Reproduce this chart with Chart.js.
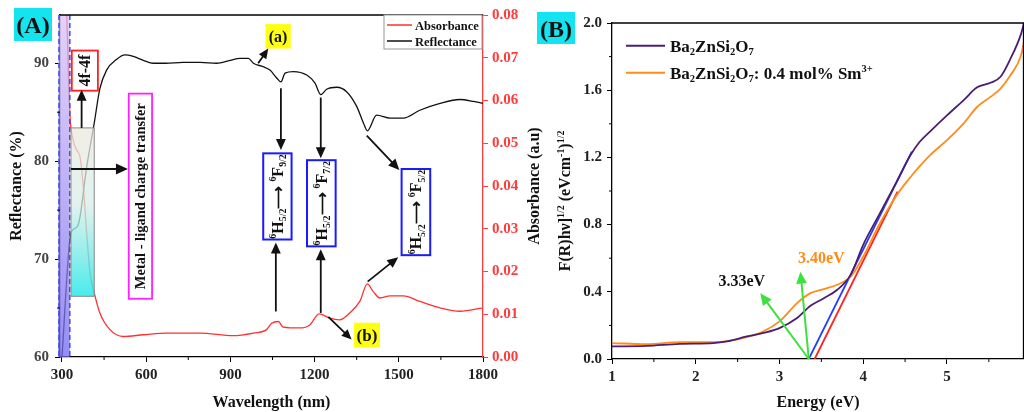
<!DOCTYPE html>
<html>
<head>
<meta charset="utf-8">
<script src="https://cdn.jsdelivr.net/npm/chart.js@4.4.1/dist/chart.umd.min.js"></script>
<style>
  html, body { margin: 0; padding: 0; background: #fff; }
  #wrap { position: relative; width: 1024px; height: 412px; overflow: hidden; }
  #chartA { position: absolute; left: 0; top: 0; }
  #chartB { position: absolute; left: 530px; top: 0; }
</style>
</head>
<body>
<div id="wrap">
  <canvas id="chartA" width="548" height="412"></canvas>
  <canvas id="chartB" width="494" height="412"></canvas>
</div>
<script>
// ---- panel (A): reflectance / absorbance vs wavelength ----
const reflWl  = [300, 328, 340, 358, 388, 415, 435, 459, 495, 524, 554, 590, 625, 669, 732, 792, 851, 899, 934, 964, 982, 1017, 1041, 1065, 1080, 1095, 1124, 1172, 1201, 1222, 1243, 1279, 1314, 1350, 1374, 1388, 1421, 1469, 1516, 1575, 1647, 1718, 1766, 1800];
const reflVal = [60, 72.0, 73.0, 73.5, 79.4, 83.9, 87.4, 89.3, 90.4, 90.85, 90.7, 90.3, 90.0, 90.0, 90.1, 90.1, 90.0, 90.3, 90.5, 90.5, 90.0, 89.65, 89.3, 88.5, 88.1, 89.0, 89.15, 88.8, 88.0, 86.8, 87.35, 87.55, 87.1, 85.6, 83.9, 83.1, 84.7, 84.4, 84.4, 85.2, 85.9, 86.3, 86.1, 85.9];

const absWl  = [305, 317, 328, 340, 352, 364, 376, 388, 400, 415, 435, 471, 518, 590, 673, 792, 910, 982, 1029, 1047, 1071, 1088, 1148, 1183, 1216, 1254, 1289, 1325, 1361, 1388, 1409, 1433, 1469, 1516, 1575, 1647, 1718, 1800];
const absVal = [0.095, 0.08, 0.057, 0.0508, 0.0484, 0.0469, 0.0399, 0.029, 0.0197, 0.015, 0.0103, 0.0064, 0.0048, 0.0052, 0.0056, 0.0056, 0.0050, 0.0056, 0.0064, 0.0079, 0.0083, 0.007, 0.0068, 0.0075, 0.0101, 0.0091, 0.0087, 0.0103, 0.013, 0.0171, 0.0153, 0.0138, 0.0143, 0.0143, 0.013, 0.0115, 0.0107, 0.0115];

const wlTicks   = [300, 600, 900, 1200, 1500, 1800];
const wlMinor   = [450, 750, 1050, 1350, 1650];
const reflTicks = [60, 70, 80, 90];
const reflMinor = [65, 75, 85];
const absTicks  = [0, 0.01, 0.02, 0.03, 0.04, 0.05, 0.06, 0.07, 0.08];

// ---- panel (B): Kubelka-Munk plot ----
const energy  = [1.0, 1.41, 1.81, 2.21, 2.37, 2.61, 2.81, 3.0, 3.21, 3.37, 3.53, 3.69, 3.85, 4.0, 4.2, 4.4, 4.56, 4.67, 4.8, 5.0, 5.2, 5.36, 5.52, 5.64, 5.76, 5.88, 5.92];
const hostKM  = [0.075, 0.078, 0.09, 0.095, 0.105, 0.134, 0.155, 0.184, 0.244, 0.317, 0.362, 0.412, 0.501, 0.68, 0.868, 1.056, 1.21, 1.29, 1.355, 1.45, 1.541, 1.617, 1.644, 1.68, 1.789, 1.928, 2.0];
const dopedKM = [0.095, 0.088, 0.1, 0.1, 0.105, 0.13, 0.165, 0.224, 0.333, 0.392, 0.416, 0.442, 0.49, 0.61, 0.808, 0.975, 1.08, 1.145, 1.214, 1.303, 1.403, 1.5, 1.56, 1.61, 1.69, 1.8, 1.888];
const hostFitE  = [3.35, 4.58];
const hostFitY  = [0, 1.234];
const dopedFitE = [3.42, 4.41];
const dopedFitY = [0, 0.996];

const eTicks = [1, 2, 3, 4, 5];
const eMinor = [1.5, 2.5, 3.5, 4.5, 5.5];
const kmTicks = [0, 0.4, 0.8, 1.2, 1.6, 2.0];
const kmMinor = [0.2, 0.6, 1.0, 1.4, 1.8];

const FONT = '"Liberation Serif", "Times New Roman", serif';

// small drawing helpers
function segFont(size, type) {
  const s = type ? size * 0.62 : size;
  return 'bold ' + s + 'px ' + FONT;
}
function richWidth(ctx, segs, size) {
  let w = 0;
  for (const [t, type] of segs) { ctx.font = segFont(size, type); w += ctx.measureText(t).width; }
  return w;
}
function drawRich(ctx, segs, x, y, size, align, color) {
  let cx = align === 'center' ? x - richWidth(ctx, segs, size) / 2 : x;
  ctx.fillStyle = color;
  ctx.textAlign = 'left';
  ctx.textBaseline = 'alphabetic';
  for (const [t, type] of segs) {
    ctx.font = segFont(size, type);
    const dy = type === 'sup' ? -size * 0.4 : type === 'sub' ? size * 0.2 : 0;
    ctx.fillText(t, cx, y + dy);
    cx += ctx.measureText(t).width;
  }
}
function vRich(ctx, segs, cx, cy, size, color) {
  ctx.save();
  ctx.translate(cx, cy);
  ctx.rotate(-Math.PI / 2);
  drawRich(ctx, segs, 0, size * 0.34, size, 'center', color);
  ctx.restore();
}
function arrow(ctx, x0, y0, x1, y1, color, lw, head) {
  const a = Math.atan2(y1 - y0, x1 - x0);
  ctx.save();
  ctx.strokeStyle = color; ctx.fillStyle = color; ctx.lineWidth = lw;
  ctx.beginPath();
  ctx.moveTo(x0, y0);
  ctx.lineTo(x1 - Math.cos(a) * head * 0.8, y1 - Math.sin(a) * head * 0.8);
  ctx.stroke();
  const w = head * 0.45;
  ctx.beginPath();
  ctx.moveTo(x1, y1);
  ctx.lineTo(x1 - head * Math.cos(a) + w * Math.sin(a), y1 - head * Math.sin(a) - w * Math.cos(a));
  ctx.lineTo(x1 - head * Math.cos(a) - w * Math.sin(a), y1 - head * Math.sin(a) + w * Math.cos(a));
  ctx.closePath();
  ctx.fill();
  ctx.restore();
}
function box(ctx, x0, y0, x1, y1, stroke, lw, fill) {
  if (fill) { ctx.fillStyle = fill; ctx.fillRect(x0, y0, x1 - x0, y1 - y0); }
  if (stroke) { ctx.strokeStyle = stroke; ctx.lineWidth = lw; ctx.strokeRect(x0, y0, x1 - x0, y1 - y0); }
}
function minorTicks(ctx, ca, xs, ys, xVals, yVals) {
  ctx.strokeStyle = '#000'; ctx.lineWidth = 1;
  ctx.beginPath();
  xVals.forEach(v => { const p = xs.getPixelForValue(v); ctx.moveTo(p, ca.bottom); ctx.lineTo(p, ca.bottom + 3); });
  yVals.forEach(v => { const p = ys.getPixelForValue(v); ctx.moveTo(ca.left, p); ctx.lineTo(ca.left - 3, p); });
  ctx.stroke();
}

const transF9 = [['6', 'sup'], ['H', ''], ['5/2', 'sub'], ['\u27F6 ', ''], ['6', 'sup'], ['F', ''], ['9/2', 'sub']];
const transF7 = [['6', 'sup'], ['H', ''], ['5/2', 'sub'], ['\u27F6 ', ''], ['6', 'sup'], ['F', ''], ['7/2', 'sub']];
const transF5 = [['6', 'sup'], ['H', ''], ['5/2', 'sub'], ['\u27F6 ', ''], ['6', 'sup'], ['F', ''], ['5/2', 'sub']];

// annotations of panel (A)
const annA = {
  id: 'annA',
  afterDatasetsDraw(chart) {
    const { ctx, chartArea: ca, scales: { x, y } } = chart;
    const X = v => x.getPixelForValue(v), Y = v => y.getPixelForValue(v);
    ctx.save();

    // UV band with dashed edges
    const bx0 = ca.left - 2, bx1 = X(328);
    let g = ctx.createLinearGradient(0, ca.top, 0, ca.bottom);
    g.addColorStop(0, 'rgba(215,190,245,0.7)');
    g.addColorStop(1, 'rgba(115,105,240,0.75)');
    ctx.fillStyle = g;
    ctx.fillRect(bx0, ca.top, bx1 - bx0, ca.bottom - ca.top);
    ctx.setLineDash([5, 3]); ctx.strokeStyle = '#3a4ff0'; ctx.lineWidth = 1.5;
    ctx.beginPath();
    ctx.moveTo(bx0 + 1, ca.top); ctx.lineTo(bx0 + 1, ca.bottom);
    ctx.moveTo(bx1, ca.top); ctx.lineTo(bx1, ca.bottom);
    ctx.stroke();
    ctx.setLineDash([]);

    // gradient box
    const gx0 = X(332), gx1 = X(415), gy0 = Y(83.4), gy1 = Y(66.2);
    g = ctx.createLinearGradient(0, gy0, 0, gy1);
    g.addColorStop(0, 'rgba(236,232,222,0.75)');
    g.addColorStop(0.45, 'rgba(215,238,232,0.75)');
    g.addColorStop(1, 'rgba(40,232,232,0.85)');
    box(ctx, gx0, gy0, gx1, gy1, '#8a8a8a', 1, g);

    // 4f-4f
    box(ctx, X(335), Y(91.3), X(428), Y(87.2), '#ff2020', 1.8, '#fff');
    vRich(ctx, [['4f-4f', '']], (X(335) + X(428)) / 2, (Y(91.3) + Y(87.2)) / 2, 16, '#111');
    arrow(ctx, X(370), gy0, X(370), Y(87.2) - 1, '#111', 1.8, 11);

    // metal-ligand charge transfer
    box(ctx, X(538), Y(86.9), X(621), Y(65.95), '#ff22ff', 1.8, '#fff');
    vRich(ctx, [['Metal - ligand charge transfer', '']], (X(538) + X(621)) / 2, (Y(86.9) + Y(65.95)) / 2, 14.5, '#111');
    arrow(ctx, gx0, Y(79.2), X(535), Y(79.2), '#111', 1.8, 12);

    // Sm3+ transitions
    const blues = [
      [1017, 1118, 80.8, 72.0, transF9],
      [1173, 1275, 80.1, 71.3, transF7],
      [1510, 1612, 79.2, 70.4, transF5]
    ];
    blues.forEach(([a, b, t, u, segs]) => {
      box(ctx, X(a), Y(t), X(b), Y(u), '#1a1aff', 2, '#fff');
      vRich(ctx, segs, (X(a) + X(b)) / 2, (Y(t) + Y(u)) / 2, 16, '#111');
    });
    arrow(ctx, X(1080), Y(87.45), X(1080), Y(81.15), '#111', 1.8, 11);
    arrow(ctx, X(1062), Y(64.65), X(1062), Y(71.7), '#111', 1.8, 11);
    arrow(ctx, X(1222), Y(86.5), X(1222), Y(80.3), '#111', 1.8, 11);
    arrow(ctx, X(1222), Y(64.5), X(1222), Y(71.0), '#111', 1.8, 11);
    arrow(ctx, X(1386), Y(82.6), X(1502), Y(79.1), '#111', 1.8, 11);
    arrow(ctx, X(1389), Y(67.7), X(1498), Y(70.2), '#111', 1.8, 11);

    // (a) and (b)
    box(ctx, X(1025), Y(94.0), X(1115), Y(91.5), null, 0, '#ffff14');
    drawRich(ctx, [['(a)', '']], (X(1025) + X(1115)) / 2, (Y(94.0) + Y(91.5)) / 2 + 5.5, 16, 'center', '#111');
    arrow(ctx, X(999), Y(90.0), X(1035), Y(91.5), '#111', 1.8, 10);
    box(ctx, X(1340), Y(63.5), X(1433), Y(61.0), null, 0, '#ffff14');
    drawRich(ctx, [['(b)', '']], (X(1340) + X(1433)) / 2, (Y(63.5) + Y(61.0)) / 2 + 6, 17, 'center', '#111');
    arrow(ctx, X(1249), Y(64.1), X(1332), Y(61.8), '#111', 1.8, 10);

    // frame top line and minor ticks
    ctx.strokeStyle = '#000'; ctx.lineWidth = 1.3;
    ctx.beginPath(); ctx.moveTo(ca.left, ca.top); ctx.lineTo(ca.right, ca.top); ctx.stroke();
    minorTicks(ctx, ca, x, y, wlMinor, reflMinor);

    // legend
    box(ctx, 384, 15, 482, 49, '#999', 1, '#fff');
    ctx.lineWidth = 1.5;
    ctx.strokeStyle = '#ff3030';
    ctx.beginPath(); ctx.moveTo(387, 25); ctx.lineTo(412, 25); ctx.stroke();
    ctx.strokeStyle = '#111';
    ctx.beginPath(); ctx.moveTo(387, 41); ctx.lineTo(412, 41); ctx.stroke();
    drawRich(ctx, [['Absorbance', '']], 415, 29.5, 12.5, 'left', '#111');
    drawRich(ctx, [['Reflectance', '']], 415, 45.5, 12.5, 'left', '#111');

    // right axis title
    vRich(ctx, [['Absorbance (a.u)', '']], 534, (ca.top + ca.bottom) / 2, 16, '#111');

    // panel label
    box(ctx, 14, 8, 52, 41, null, 0, '#14e4ef');
    drawRich(ctx, [['(A)', '']], 33, 33, 24, 'center', '#111');
    ctx.restore();
  }
};

// annotations of panel (B)
const annB = {
  id: 'annB',
  afterDatasetsDraw(chart) {
    const { ctx, chartArea: ca, scales: { x, y } } = chart;
    const X = v => x.getPixelForValue(v), Y = v => y.getPixelForValue(v);
    ctx.save();
    ctx.strokeStyle = '#000'; ctx.lineWidth = 1.3;
    ctx.beginPath();
    ctx.moveTo(ca.left, ca.top); ctx.lineTo(ca.right - 0.5, ca.top); ctx.lineTo(ca.right - 0.5, ca.bottom);
    ctx.stroke();
    minorTicks(ctx, ca, x, y, eMinor, kmMinor);

    arrow(ctx, X(3.35), Y(0), X(2.77), Y(0.392), '#3ee03e', 2, 12);
    arrow(ctx, X(3.35), Y(0), X(3.25), Y(0.52), '#3ee03e', 2, 12);
    drawRich(ctx, [['3.33eV', '']], X(2.55), Y(0.471) + 6, 16, 'center', '#111');
    drawRich(ctx, [['3.40eV', '']], X(3.5), Y(0.61) + 6, 16, 'center', '#ff8c1a');

    // legend
    ctx.lineWidth = 2;
    ctx.strokeStyle = '#4a1f73';
    ctx.beginPath(); ctx.moveTo(96, 45.7); ctx.lineTo(135, 45.7); ctx.stroke();
    ctx.strokeStyle = '#ff8c1a';
    ctx.beginPath(); ctx.moveTo(96, 72.7); ctx.lineTo(135, 72.7); ctx.stroke();
    const host = [['Ba', ''], ['2', 'sub'], ['ZnSi', ''], ['2', 'sub'], ['O', ''], ['7', 'sub']];
    drawRich(ctx, host, 140, 51.5, 17, 'left', '#111');
    drawRich(ctx, host.concat([[': 0.4 mol% Sm', ''], ['3+', 'sup']]), 140, 78.5, 17, 'left', '#111');

    // y title
    vRich(ctx, [['F(R)h\u03BD]', ''], ['1/2', 'sup'], [' (eVcm', ''], ['-1', 'sup'], [')', ''], ['1/2', 'sup']],
      35, 201, 16, '#111');

    // panel label
    box(ctx, 7, 12, 45, 44, null, 0, '#14e4ef');
    drawRich(ctx, [['(B)', '']], 26, 37, 24, 'center', '#111');
    ctx.restore();
  }
};

const tickFont = { family: FONT, size: 15, weight: 'bold' };
const titleFont = { family: FONT, size: 16, weight: 'bold' };

new Chart(document.getElementById('chartA'), {
  type: 'line',
  data: {
    datasets: [
      { label: 'Reflectance', data: reflWl.map((w, i) => ({ x: w, y: reflVal[i] })), yAxisID: 'y',
        borderColor: '#111', borderWidth: 1.3, pointRadius: 0, cubicInterpolationMode: 'monotone' },
      { label: 'Absorbance', data: absWl.map((w, i) => ({ x: w, y: absVal[i] })), yAxisID: 'y1',
        borderColor: '#ff3030', borderWidth: 1.3, pointRadius: 0, cubicInterpolationMode: 'monotone' }
    ]
  },
  options: {
    responsive: false, animation: false, devicePixelRatio: 1,
    layout: { padding: { top: 15, left: 0, right: 0, bottom: 0 } },
    plugins: { legend: { display: false }, tooltip: { enabled: false } },
    scales: {
      x: {
        type: 'linear', min: 293, max: 1800,
        afterBuildTicks: s => { s.ticks = wlTicks.map(v => ({ value: v })); },
        afterFit: s => { s.height = 55; },
        ticks: { font: tickFont, color: '#222', padding: 4, maxRotation: 0, autoSkip: false, callback: v => String(v) },
        grid: { drawOnChartArea: false, tickLength: 5, color: '#000' },
        border: { color: '#000', width: 1.3 },
        title: { display: true, text: 'Wavelength (nm)', font: titleFont, color: '#111', padding: { top: 0, bottom: 0 } }
      },
      y: {
        position: 'left', min: 60, max: 94.93,
        afterBuildTicks: s => { s.ticks = reflTicks.map(v => ({ value: v })); },
        afterFit: s => { s.width = 60; },
        ticks: { font: tickFont, color: '#444', padding: 6, autoSkip: false, callback: v => String(v) },
        grid: { drawOnChartArea: false, tickLength: 5, color: '#000' },
        border: { color: '#000', width: 1.3 },
        title: { display: true, text: 'Reflectance (%)', font: titleFont, color: '#111', padding: { top: 7, bottom: 0 } }
      },
      y1: {
        position: 'right', min: 0, max: 0.08,
        afterBuildTicks: s => { s.ticks = absTicks.map(v => ({ value: v })); },
        afterFit: s => { s.width = 65; },
        ticks: { font: tickFont, color: '#ff3b3b', padding: 4, autoSkip: false, callback: v => v.toFixed(2) },
        grid: { drawOnChartArea: false, tickLength: 5, color: '#ff3b3b' },
        border: { color: '#ff3b3b', width: 1.3 }
      }
    }
  },
  plugins: [annA]
});

new Chart(document.getElementById('chartB'), {
  type: 'line',
  data: {
    datasets: [
      { label: 'host', data: energy.map((e, i) => ({ x: e, y: hostKM[i] })),
        borderColor: '#4a1f73', borderWidth: 1.8, pointRadius: 0, cubicInterpolationMode: 'monotone' },
      { label: 'doped', data: energy.map((e, i) => ({ x: e, y: dopedKM[i] })),
        borderColor: '#ff8c1a', borderWidth: 1.8, pointRadius: 0, cubicInterpolationMode: 'monotone' },
      { label: 'host fit', data: hostFitE.map((e, i) => ({ x: e, y: hostFitY[i] })),
        borderColor: '#1f3fff', borderWidth: 1.8, pointRadius: 0 },
      { label: 'doped fit', data: dopedFitE.map((e, i) => ({ x: e, y: dopedFitY[i] })),
        borderColor: '#ff2020', borderWidth: 1.8, pointRadius: 0 }
    ]
  },
  options: {
    responsive: false, animation: false, devicePixelRatio: 1,
    layout: { padding: { top: 23, left: 0, right: 0, bottom: 0 } },
    plugins: { legend: { display: false }, tooltip: { enabled: false } },
    scales: {
      x: {
        type: 'linear', min: 1, max: 5.92,
        afterBuildTicks: s => { s.ticks = eTicks.map(v => ({ value: v })); },
        afterFit: s => { s.height = 53; },
        ticks: { font: tickFont, color: '#222', padding: 4, maxRotation: 0, autoSkip: false, callback: v => String(v) },
        grid: { drawOnChartArea: false, tickLength: 5, color: '#000' },
        border: { color: '#000', width: 1.3 },
        title: { display: true, text: 'Energy (eV)', font: titleFont, color: '#111', padding: { top: 0, bottom: 0 } }
      },
      y: {
        position: 'left', min: 0, max: 2.0,
        afterBuildTicks: s => { s.ticks = kmTicks.map(v => ({ value: v })); },
        afterFit: s => { s.width = 82; },
        ticks: { font: tickFont, color: '#222', padding: 5, autoSkip: false, callback: v => v.toFixed(1) },
        grid: { drawOnChartArea: false, tickLength: 5, color: '#000' },
        border: { color: '#000', width: 1.3 }
      }
    }
  },
  plugins: [annB]
});
</script>
</body>
</html>
